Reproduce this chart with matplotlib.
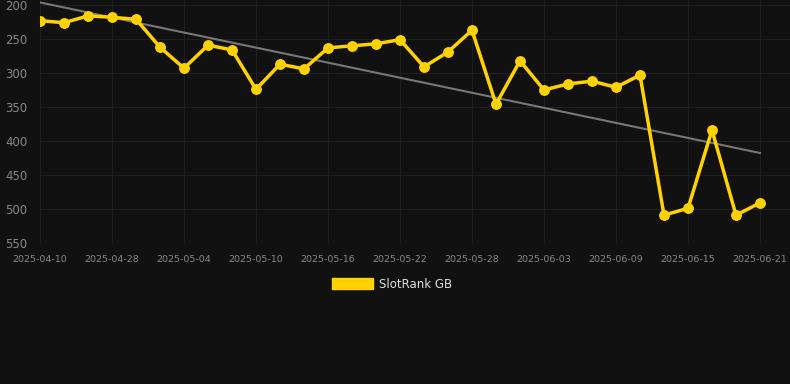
import matplotlib.pyplot as plt
import numpy as np

dates = ['2025-04-10', '2025-04-24', '2025-04-26', '2025-04-28', '2025-04-30',
         '2025-05-02', '2025-05-04', '2025-05-06', '2025-05-08', '2025-05-10',
         '2025-05-12', '2025-05-14', '2025-05-16', '2025-05-18', '2025-05-20',
         '2025-05-22', '2025-05-24', '2025-05-26', '2025-05-28', '2025-05-30',
         '2025-06-01', '2025-06-03', '2025-06-05', '2025-06-07', '2025-06-09',
         '2025-06-11', '2025-06-13', '2025-06-15', '2025-06-17', '2025-06-19',
         '2025-06-21']
rank_gb = [223, 226, 216, 218, 221, 262, 293, 259, 266, 324,
           287, 294, 263, 260, 257, 251, 291, 269, 237, 346,
           282, 325, 316, 312, 321, 303, 509, 499, 384, 509,
           491]
y_ticks = [200, 250, 300, 350, 400, 450, 500, 550]

bg = '#111111'
gold = '#FFD200'

fig = plt.figure(figsize=(7.9, 3.84), dpi=100, facecolor=bg)
ax = fig.add_axes([40 / 790, 1 - 243 / 384, 750 / 790, 243 / 384])
ax.set_facecolor(bg)

x = np.arange(len(dates))
y = np.array(rank_gb)

# trend line
k, b = np.polyfit(x, y, 1)
ax.plot(x, k * x + b, color='#777777', lw=1.5, zorder=2)

ax.plot(x, y, color=gold, lw=2.5, marker='o', ms=6.8, zorder=3, label='SlotRank GB')

ax.set_xlim(0, 31.25)
ax.set_ylim(550, 192.6)
ax.set_yticks(y_ticks)
ax.set_xticks(x[::3])
ax.set_xticklabels(dates[::3])

ax.grid(True, color='#1f1f1f', lw=0.8)
for s in ax.spines.values():
    s.set_visible(False)
ax.axhline(550, color='#262626', lw=0.8, zorder=1)
ax.tick_params(axis='y', colors='#888888', labelsize=8.5, length=0, pad=9)
ax.tick_params(axis='x', colors='#888888', labelsize=6.8, length=0, pad=9)

leg = fig.legend(handles=[plt.Rectangle((0, 0), 1, 1, color=gold)],
                 labels=['SlotRank GB'], loc='center', bbox_to_anchor=(392 / 790, 1 - 284 / 384),
                 frameon=False, fontsize=8.5, handlelength=3.5, handleheight=1.0,
                 handletextpad=0.5, labelcolor='#dddddd')

fig.savefig('out.png', dpi=100, facecolor=bg)
